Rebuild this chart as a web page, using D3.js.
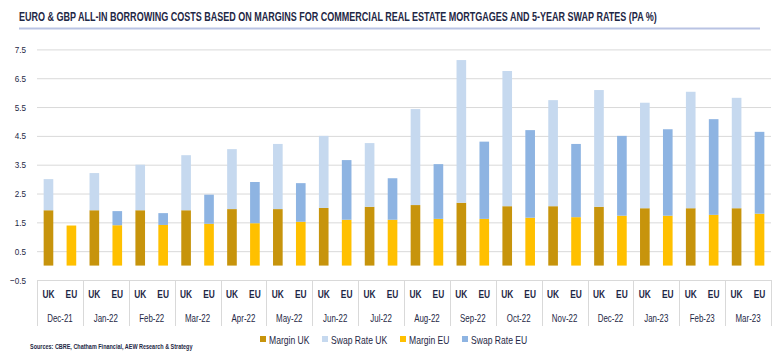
<!DOCTYPE html>
<html><head><meta charset="utf-8">
<script src="https://cdn.jsdelivr.net/npm/d3@7"></script>
<style>
body{margin:0;background:#fff;}
svg{display:block;}
text{font-family:"Liberation Sans",Arial,sans-serif;}
</style></head>
<body>
<svg id="c" width="778" height="355"></svg>
<script>
const title = "EURO & GBP ALL-IN BORROWING COSTS BASED ON MARGINS FOR COMMERCIAL REAL ESTATE MORTGAGES AND 5-YEAR SWAP RATES (PA %)";
const source = "Sources: CBRE, Chatham Financial, AEW Research & Strategy";
const months = ["Dec-21","Jan-22","Feb-22","Mar-22","Apr-22","May-22","Jun-22","Jul-22","Aug-22","Sep-22","Oct-22","Nov-22","Dec-22","Jan-23","Feb-23","Mar-23"];
const regions = ["UK","EU"];
const marginUK = [1.92,1.92,1.92,1.92,1.96,1.96,2.00,2.04,2.10,2.18,2.06,2.06,2.04,1.99,1.99,1.99];
const swapUK   = [1.08,1.29,1.58,1.91,2.08,2.26,2.50,2.21,3.33,4.95,4.69,3.68,4.05,3.66,4.04,3.83];
const marginEU = [1.39,1.40,1.41,1.45,1.47,1.52,1.59,1.59,1.62,1.62,1.66,1.68,1.73,1.73,1.76,1.80];
const swapEU   = [0.00,0.49,0.41,1.01,1.43,1.34,2.07,1.44,1.90,2.68,3.04,2.54,2.77,3.00,3.32,2.84];
const yTicks = [-0.5,0.5,1.5,2.5,3.5,4.5,5.5,6.5,7.5];
const seriesNames = ["Margin UK","Swap Rate UK","Margin EU","Swap Rate EU"];
const colors = ["#C7940C","#C6D9EF","#FFC000","#8EB4E2"];

const svg = d3.select("#c");
const navy = "#1e2745";

// condensed text helper (horizontal scaling)
function ctext(parent, x, y, str, size, sx, anchor, weight){
  return parent.append("text")
    .attr("transform", `translate(${x},${y}) scale(${sx},1)`)
    .attr("font-size", size).attr("font-weight", weight||"normal")
    .attr("text-anchor", anchor||"start").attr("fill", navy).text(str);
}
function fitText(parent, x, y, str, size, width, weight){
  const t = parent.append("text").attr("font-size",size).attr("font-weight",weight||"normal")
    .attr("fill",navy).text(str);
  const w = t.node().getComputedTextLength();
  t.attr("transform", `translate(${x},${y}) scale(${width/w},1)`);
  return t;
}

// Title
fitText(svg, 19, 21, title, 12, 638, "bold");
svg.append("line").attr("x1",19).attr("x2",760).attr("y1",28.5).attr("y2",28.5)
  .attr("stroke","#b9c3e3").attr("stroke-width",2);

const x0 = d3.scaleBand().domain(months).range([37,771]);
const x1 = d3.scaleBand().domain(regions).range([0,x0.bandwidth()]).paddingInner(0.58).paddingOuter(0.29);
const y = d3.scaleLinear().domain([-0.5,7.5]).range([280,49.4]);

// gridlines + y labels
const gy = svg.append("g").attr("transform","translate(37,0)")
  .call(d3.axisLeft(y).tickValues(yTicks).tickSize(-734).tickFormat(""));
gy.select(".domain").remove();
gy.selectAll(".tick line").attr("stroke","#d9d9d9");
const fmt = d3.format(".1f");
yTicks.forEach(t=>{
  ctext(svg, 26, y(t)+3.5, fmt(t), 9.8, 0.83, "end");
});

// stacks
const data = months.map((m,i)=>({m, UK:[marginUK[i],swapUK[i]], EU:[marginEU[i],swapEU[i]]}));
const g = svg.append("g");
data.forEach(d=>{
  regions.forEach((r,ri)=>{
    let base = 0;
    d[r].forEach((v,si)=>{
      if(v>0){
        g.append("rect")
          .attr("x", x0(d.m)+x1(r))
          .attr("width", x1.bandwidth())
          .attr("y", y(base+v))
          .attr("height", y(base)-y(base+v))
          .attr("fill", colors[ri*2+si]);
      }
      base += v;
    });
  });
});

// category axis
const ax = svg.append("g");
ax.append("line").attr("x1",37).attr("x2",771).attr("y1",280.5).attr("y2",280.5).attr("stroke","#d9d9d9");
months.concat(["__end"]).forEach((m,i)=>{
  const xx = (i<months.length? x0(m) : 771);
  ax.append("line").attr("x1",Math.round(xx)+0.5).attr("x2",Math.round(xx)+0.5)
    .attr("y1",280).attr("y2",326).attr("stroke","#d9d9d9");
});
months.forEach(m=>{
  regions.forEach(r=>{
    ctext(ax, x0(m)+x1(r)+x1.bandwidth()/2, 298, r, 11, 0.76, "middle", "bold");
  });
  ctext(ax, x0(m)+x0.bandwidth()/2, 322, m, 11, 0.72, "middle");
});

// legend
const legX = [260,322,400,462];
seriesNames.forEach((n,i)=>{
  svg.append("rect").attr("x",legX[i]).attr("y",336).attr("width",6).attr("height",6).attr("fill",colors[i]);
  ctext(svg, legX[i]+9, 343.5, n, 11, 0.78, "start");
});

// source
fitText(svg, 30, 349, source, 7.5, 163, "bold");
</script>
</body></html>
